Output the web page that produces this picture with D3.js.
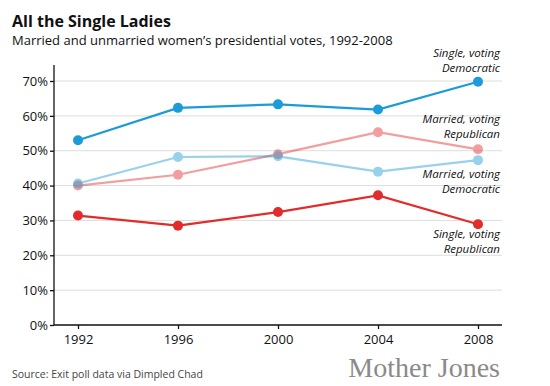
<!DOCTYPE html>
<html>
<head>
<meta charset="utf-8">
<script src="https://cdn.jsdelivr.net/npm/d3@7"></script>
<style>
  body { margin: 0; background: #fff; }
  text { font-family: "Open Sans", "Noto Sans", sans-serif; }
</style>
</head>
<body>
<div id="chart"></div>
<script>
// Data
const years = [1992, 1996, 2000, 2004, 2008];
const singleDem = [53.0, 62.3, 63.3, 61.8, 69.8];
const marriedRep = [40.0, 43.1, 49.0, 55.3, 50.4];
const marriedDem = [40.6, 48.2, 48.4, 44.0, 47.3];
const singleRep = [31.4, 28.5, 32.4, 37.2, 28.9];
const yTicks = [0, 10, 20, 30, 40, 50, 60, 70];

const blue = "#1b9bd7";
const red = "#e32b2b";

const series = [
  {name: "marriedRep", values: marriedRep, color: red, opacity: 0.45, label: ["Married, voting", "Republican"], ly: 123},
  {name: "marriedDem", values: marriedDem, color: blue, opacity: 0.45, label: ["Married, voting", "Democratic"], ly: 178},
  {name: "singleRep", values: singleRep, color: red, opacity: 1, label: ["Single, voting", "Republican"], ly: 238},
  {name: "singleDem", values: singleDem, color: blue, opacity: 1, label: ["Single, voting", "Democratic"], ly: 57}
];

const width = 550;
const height = 386;
const margin = {top: 65, right: 48, bottom: 61, left: 54};
const innerWidth = width - margin.left - margin.right;
const innerHeight = height - margin.top - margin.bottom;

const svg = d3.select("#chart")
  .append("svg")
  .attr("width", width)
  .attr("height", height);

// Title and subtitle
svg.append("text")
  .text("All the Single Ladies")
  .attr("x", 12)
  .attr("y", 27)
  .attr("font-size", 16)
  .attr("font-weight", "bold")
  .attr("fill", "#111");
svg.append("text")
  .text("Married and unmarried women’s presidential votes, 1992-2008")
  .attr("x", 12)
  .attr("y", 45)
  .attr("font-size", 13)
  .attr("fill", "#111");

const innerChart = svg.append("g")
  .attr("transform", `translate(${margin.left}, ${margin.top})`);

// Scales
const xScale = d3.scaleLinear()
  .domain([1992, 2008])
  .range([24, 424]);
const yScale = d3.scaleLinear()
  .domain([0, 70])
  .range([innerHeight, 16]);

// Gridlines
innerChart.append("g")
  .selectAll("line")
  .data(yTicks.filter(d => d > 0))
  .join("line")
    .attr("x1", 0)
    .attr("x2", innerWidth)
    .attr("y1", d => yScale(d))
    .attr("y2", d => yScale(d))
    .attr("stroke", "#ddd")
    .attr("stroke-width", 1);

// Axes
const bottomAxis = d3.axisBottom(xScale)
  .tickValues(years)
  .tickFormat(d3.format("d"))
  .tickSize(4)
  .tickPadding(6);
const xAxis = innerChart.append("g")
  .attr("transform", `translate(0, ${innerHeight})`)
  .call(bottomAxis);
xAxis.select(".domain")
  .attr("d", `M0,0H${innerWidth}`);

const leftAxis = d3.axisLeft(yScale)
  .tickValues(yTicks)
  .tickFormat(d => d + "%")
  .tickSize(4)
  .tickPadding(2);
const yAxis = innerChart.append("g")
  .call(leftAxis);
yAxis.select(".domain")
  .attr("d", `M0,0V${innerHeight}`);

innerChart.selectAll(".tick text")
  .attr("font-size", 13)
  .attr("fill", "#111");
innerChart.selectAll(".domain, .tick line")
  .attr("stroke", "#111")
  .attr("stroke-width", 1.3);

// Lines and points
const lineGenerator = d3.line()
  .x((d, i) => xScale(years[i]))
  .y(d => yScale(d));

series.forEach(s => {
  const g = innerChart.append("g")
    .attr("opacity", s.opacity);
  g.append("path")
    .attr("d", lineGenerator(s.values))
    .attr("fill", "none")
    .attr("stroke", s.color)
    .attr("stroke-width", 2.2);
  g.selectAll("circle")
    .data(s.values)
    .join("circle")
      .attr("cx", (d, i) => xScale(years[i]))
      .attr("cy", d => yScale(d))
      .attr("r", 5)
      .attr("fill", s.color);

  // Label near the 2008 point
  svg.append("text")
    .attr("x", 500)
    .attr("y", s.ly)
    .attr("text-anchor", "end")
    .attr("font-size", 11.5)
    .attr("font-style", "italic")
    .attr("fill", "#111")
    .selectAll("tspan")
    .data(s.label)
    .join("tspan")
      .attr("x", 500)
      .attr("dy", (d, i) => i === 0 ? 0 : 15)
      .text(d => d);
});

// Source and logo
svg.append("text")
  .text("Source: Exit poll data via Dimpled Chad")
  .attr("x", 12)
  .attr("y", 378)
  .attr("font-size", 10.5)
  .attr("fill", "#444");
svg.append("text")
  .text("Mother Jones")
  .attr("x", 500)
  .attr("y", 377)
  .attr("text-anchor", "end")
  .style("font-family", "\"Liberation Serif\", \"DejaVu Serif\", serif")
  .attr("font-size", 28)
  .attr("fill", "#8a8a8a");
</script>
</body>
</html>
